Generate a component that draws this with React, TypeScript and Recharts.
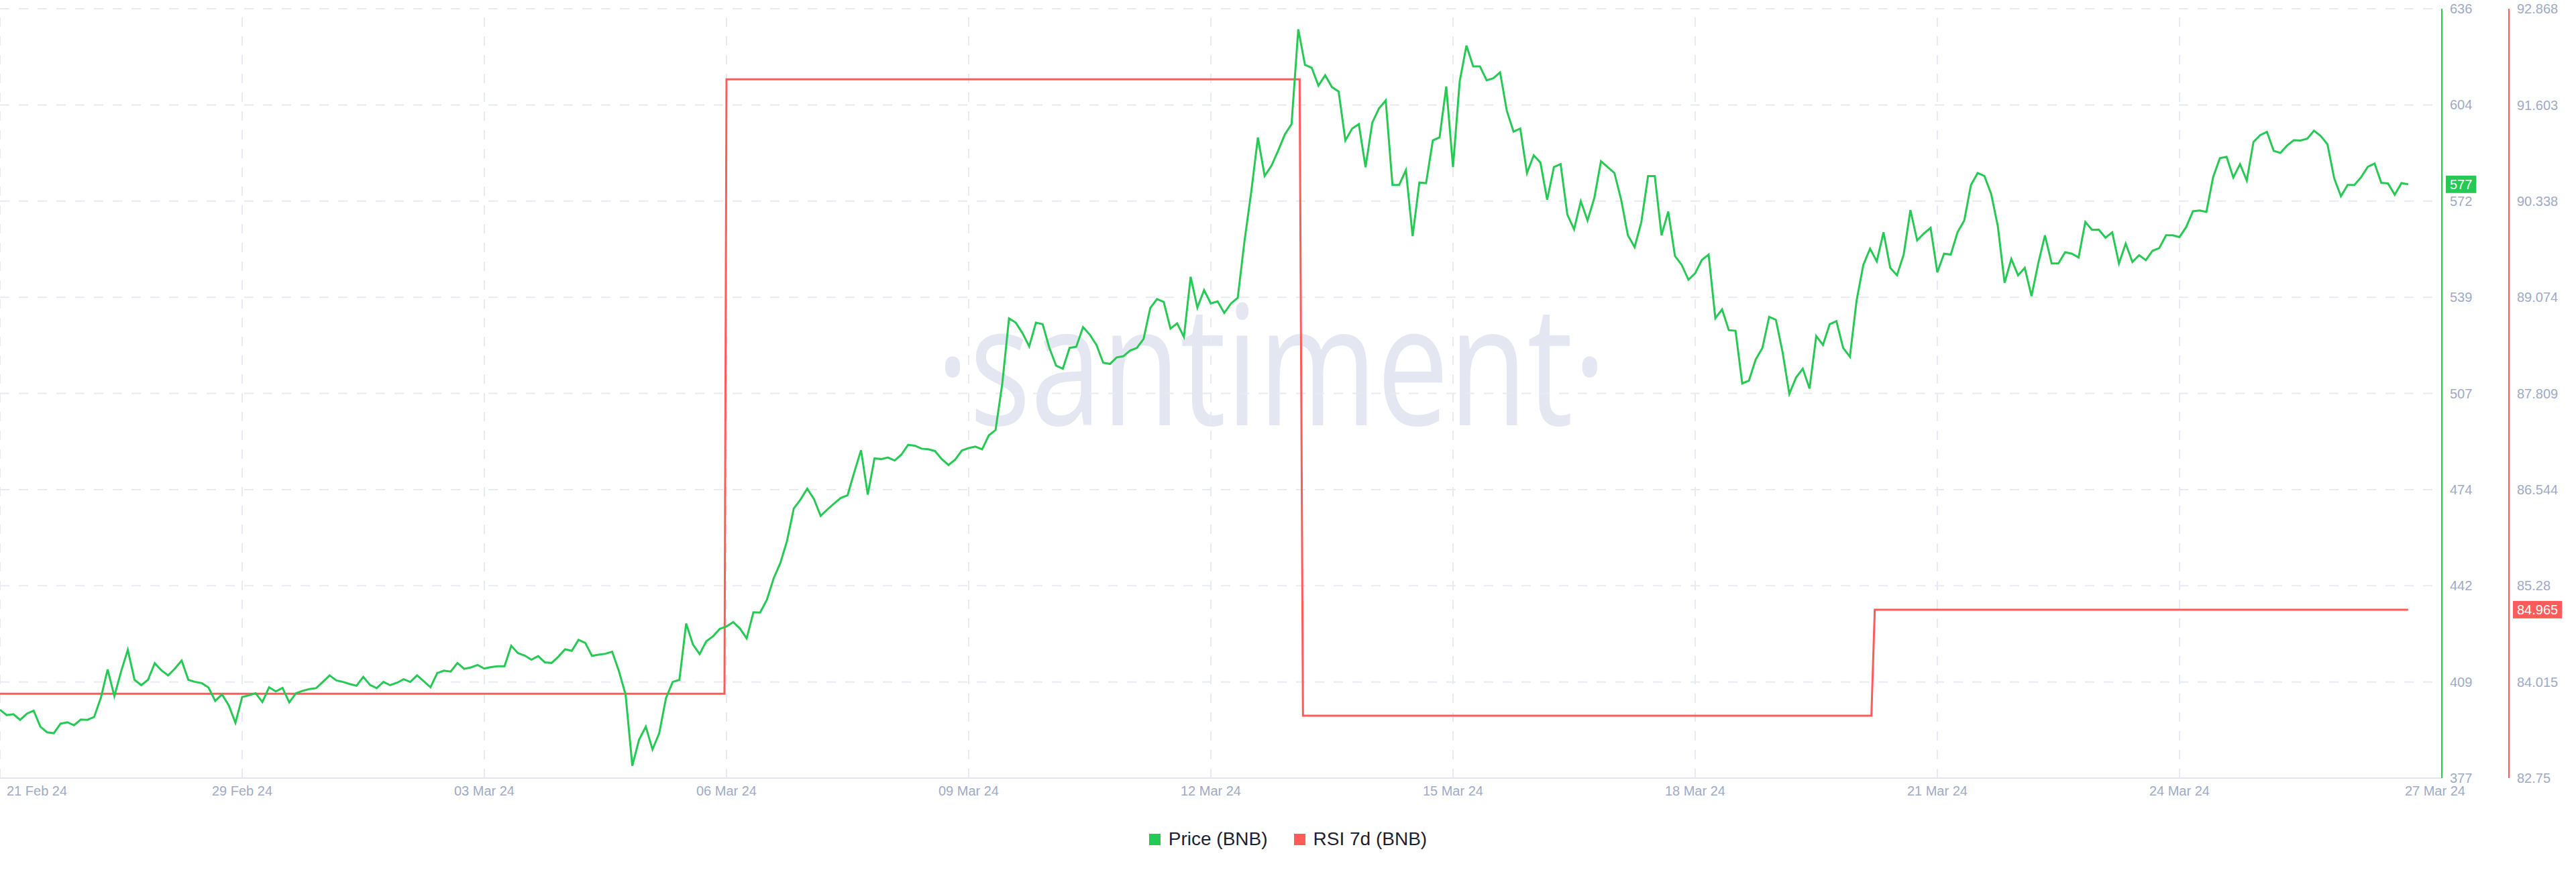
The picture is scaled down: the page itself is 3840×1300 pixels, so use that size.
import React from 'react';
import { LineChart, Line, XAxis, YAxis, CartesianGrid, ReferenceLine } from 'recharts';

// Price (BNB), one value per index step (x = index)
const priceValues: number[] = [
  399.9, 398.1, 398.4, 396.5, 398.6, 399.6, 394.2, 392.3, 392.0, 395.2,
  395.7, 394.7, 396.6, 396.5, 397.5, 404.0, 413.5, 404.5, 412.8, 420.1,
  410.0, 408.2, 410.0, 415.6, 413.2, 411.5, 413.8, 416.5, 410.0, 409.3,
  408.9, 407.4, 402.9, 405.1, 401.4, 395.5, 404.2, 404.8, 405.5, 402.5,
  407.5, 406.1, 407.3, 402.4, 405.5, 406.3, 406.9, 407.2, 409.3, 411.5,
  409.8, 409.3, 408.6, 408.0, 411.0, 408.3, 407.2, 409.3, 408.2, 409.0,
  410.2, 409.3, 411.5, 409.5, 407.5, 412.3, 413.1, 412.8, 415.7, 413.7,
  414.2, 415.0, 413.8, 414.3, 414.6, 414.6, 421.5, 419.0, 418.2, 416.8,
  418.0, 415.9, 415.7, 417.8, 420.3, 419.8, 423.5, 422.5, 418.1, 418.5,
  418.8, 419.5, 413.0, 405.0, 381.0, 389.8, 394.2, 386.5, 392.0, 403.8,
  409.3, 410.0, 429.0, 422.0, 418.7, 423.0, 424.7, 427.2, 428.0, 429.5,
  427.3, 424.0, 432.8, 432.7, 437.0, 444.2, 449.4, 456.9, 467.8, 470.8,
  474.5, 471.0, 465.3, 467.5, 469.5, 471.4, 472.3, 480.1, 487.5, 472.5,
  484.7, 484.5, 485.0, 484.0, 486.0, 489.3, 489.0, 488.0, 487.8, 487.2,
  484.5, 482.5, 484.3, 487.4, 488.2, 488.7, 487.8, 492.5, 494.3, 510.0,
  532.0, 530.5, 527.0, 522.5, 530.5, 530.0, 522.0, 516.0, 515.0, 522.0,
  522.4, 529.0, 526.5, 523.0, 517.0, 516.6, 518.8, 519.2, 521.1, 522.0,
  525.0, 535.5, 538.5, 537.5, 528.5, 530.3, 525.7, 546.0, 535.6, 541.5,
  537.0, 537.7, 533.8, 537.0, 538.9, 558.0, 574.5, 593.0, 580.0, 583.4,
  588.5, 594.0, 597.5, 629.5, 617.5, 616.5, 610.5, 614.0, 610.0, 608.5,
  592.0, 596.0, 597.5, 583.0, 598.0, 602.8, 605.5, 577.0, 577.0, 582.0,
  559.7, 577.8, 577.6, 592.0, 593.0, 610.2, 583.0, 612.0, 624.0, 617.0,
  617.0, 612.3, 613.0, 615.0, 602.0, 595.0, 596.0, 581.0, 587.0, 584.5,
  572.0, 583.0, 584.0, 567.0, 562.0, 571.5, 565.0, 572.5, 585.0, 583.0,
  581.0, 572.0, 560.0, 556.0, 564.5, 580.0, 580.0, 560.0, 568.0, 553.0,
  550.0, 545.0, 547.2, 551.7, 553.5, 532.0, 535.0, 528.0, 527.8, 510.0,
  511.0, 518.1, 522.0, 532.5, 531.5, 520.5, 506.5, 512.0, 515.0, 508.3,
  526.0, 523.0, 530.0, 531.0, 522.0, 519.0, 538.0, 550.0, 555.5, 551.2,
  561.0, 549.0, 546.5, 553.5, 568.5, 558.3, 560.6, 562.5, 547.5, 553.8,
  553.5, 561.0, 565.0, 577.0, 581.0, 580.0, 574.0, 563.0, 544.0, 552.0,
  546.5, 549.0, 539.5, 550.5, 560.0, 550.5, 550.5, 554.3, 553.8, 552.5,
  564.5, 561.8, 561.9, 559.2, 561.0, 550.5, 557.2, 551.0, 553.3, 551.6,
  554.8, 555.7, 560.0, 560.0, 559.4, 562.8, 568.1, 568.4, 567.9, 579.6,
  586.0, 586.5, 579.5, 584.0, 578.5, 591.5, 593.8, 594.9, 588.5, 587.8,
  590.3, 592.1, 592.0, 592.6, 595.3, 593.5, 590.7, 579.2, 573.2, 577.0,
  577.0, 579.6, 583.1, 584.2, 577.7, 577.5, 573.7, 577.6, 577.2,
];

// RSI 7d (BNB): step levels, read at their break positions (same x index scale)
const rsiX: number[] = [0, 107.7, 108.0, 193.2, 193.7, 278.2, 278.7, 358];
const rsiValues: number[] = [83.86, 83.86, 91.94, 91.94, 83.57, 83.57, 84.965, 84.965];

// x-axis categories (date ticks)
const dateTickIndex: number[] = [0, 36, 72, 108, 144, 180, 216, 252, 288, 324, 360];
const dateTickLabels: string[] = [
  '21 Feb 24', '29 Feb 24', '03 Mar 24', '06 Mar 24', '09 Mar 24', '12 Mar 24',
  '15 Mar 24', '18 Mar 24', '21 Mar 24', '24 Mar 24', '27 Mar 24',
];

// y-axis ticks
const priceTicks: number[] = [376.85, 409.3, 441.75, 474.2, 506.65, 539.1, 571.55, 604.0, 636.45];
const rsiTicks: number[] = [82.75, 84.015, 85.28, 86.544, 87.809, 89.074, 90.338, 91.603, 92.868];

const seriesInfo = [
  { key: 'price', name: 'Price (BNB)', color: '#26C953' },
  { key: 'rsi', name: 'RSI 7d (BNB)', color: '#FF5B5B' },
];

const priceRows = priceValues.map((v, i) => ({ x: i, price: v }));
const rsiRows = rsiX.map((x, i) => ({ x, rsi: rsiValues[i] }));

const FONT = "'Liberation Sans', Arial, Helvetica, sans-serif";
const TICK_COLOR = '#9faac4';
const GRID_COLOR = '#e7eaf3';

const charW = (s: string) =>
  s.split('').reduce((a, c) => a + (c === '.' ? 5.56 : 11.12), 0);

const makeBadge = (text: string, color: string, gap: number) => (props: any) => {
  const vb = props.viewBox || {};
  const x0 = (vb.x || 0) + (vb.width || 0) + gap;
  const y0 = vb.y || 0;
  const w = charW(text) + 12;
  return (
    <g>
      <rect x={x0} y={y0 - 13} width={w} height={26} fill={color} />
      <text x={x0 + 6} y={y0 + 7} fill="#ffffff" fontSize={20} fontFamily={FONT}>
        {text}
      </text>
    </g>
  );
};

const XTick = (props: any) => {
  const { x, y, payload } = props;
  const idx = dateTickIndex.indexOf(payload.value);
  const label = idx >= 0 ? dateTickLabels[idx] : '';
  let anchor: 'start' | 'middle' = 'middle';
  let dx = 0;
  if (idx === 0) {
    anchor = 'start';
    dx = 10;
  } else if (idx === dateTickIndex.length - 1) {
    dx = 20;
  }
  return (
    <text x={x + dx} y={y + 26} textAnchor={anchor} fill={TICK_COLOR} fontSize={20} fontFamily={FONT}>
      {label}
    </text>
  );
};

export default function App() {
  const lastPrice = String(Math.round(priceValues[priceValues.length - 1]));
  const lastRsi = String(rsiValues[rsiValues.length - 1]);
  return (
    <div style={{ position: 'absolute', left: 0, top: 0, width: 3840, height: 1300, background: '#ffffff' }}>
      <svg width={3840} height={1300} style={{ position: 'absolute', left: 0, top: 0 }}>
        <text
          x={1395}
          y={634}
          fontFamily="'Open Sans', 'Noto Sans', sans-serif"
          fontWeight={400}
          fontSize={250}
          fill="#e4e7f1"
          textLength={1000}
          lengthAdjust="spacingAndGlyphs"
        >
          ·santiment·
        </text>
      </svg>
      <div style={{ position: 'absolute', left: 0, top: 0 }}>
        <LineChart
          width={3840}
          height={1300}
          data={priceRows}
          margin={{ top: 13, right: 0, bottom: 100, left: 0 }}
        >
          <CartesianGrid
            yAxisId="price"
            vertical={false}
            stroke={GRID_COLOR}
            strokeWidth={2}
            strokeDasharray="14 14"
          />
          <XAxis
            dataKey="x"
            type="number"
            domain={[0, 363]}
            ticks={dateTickIndex}
            interval={0}
            height={40}
            tickLine={false}
            tickSize={0}
            tickMargin={0}
            axisLine={{ stroke: '#e4e7f0', strokeWidth: 2 }}
            tick={<XTick />}
            allowDataOverflow
          />
          <YAxis
            yAxisId="price"
            orientation="right"
            width={100}
            domain={[priceTicks[0], priceTicks[priceTicks.length - 1]]}
            ticks={priceTicks}
            interval={0}
            allowDataOverflow
            tickLine={false}
            tickSize={0}
            tickMargin={12}
            tickFormatter={(v: number) => String(Math.round(v))}
            tick={{ fill: TICK_COLOR, fontSize: 20, fontFamily: FONT }}
            axisLine={{ stroke: seriesInfo[0].color, strokeWidth: 2 }}
          />
          <YAxis
            yAxisId="rsi"
            orientation="right"
            width={100}
            domain={[rsiTicks[0], rsiTicks[rsiTicks.length - 1]]}
            ticks={rsiTicks}
            interval={0}
            allowDataOverflow
            tickLine={false}
            tickSize={0}
            tickMargin={12}
            tickFormatter={(v: number) => String(v)}
            tick={{ fill: TICK_COLOR, fontSize: 20, fontFamily: FONT }}
            axisLine={{ stroke: seriesInfo[1].color, strokeWidth: 2 }}
          />
          {dateTickIndex.slice(0, dateTickIndex.length - 1).map((t) => (
            <ReferenceLine
              key={'vg' + t}
              x={t}
              yAxisId="price"
              stroke={GRID_COLOR}
              strokeWidth={2}
              strokeDasharray="14 14"
            />
          ))}
          <Line
            yAxisId="rsi"
            data={rsiRows}
            dataKey="rsi"
            name={seriesInfo[1].name}
            type="linear"
            stroke={seriesInfo[1].color}
            strokeWidth={3}
            dot={false}
            activeDot={false}
            isAnimationActive={false}
          />
          <Line
            yAxisId="price"
            dataKey="price"
            name={seriesInfo[0].name}
            type="linear"
            stroke={seriesInfo[0].color}
            strokeWidth={3}
            dot={false}
            activeDot={false}
            isAnimationActive={false}
          />
          <ReferenceLine
            yAxisId="price"
            y={priceValues[priceValues.length - 1]}
            stroke="none"
            label={makeBadge(lastPrice, seriesInfo[0].color, 6)}
          />
          <ReferenceLine
            yAxisId="rsi"
            y={rsiValues[rsiValues.length - 1]}
            stroke="none"
            label={makeBadge(lastRsi, seriesInfo[1].color, 106)}
          />
        </LineChart>
      </div>
      <div
        style={{
          position: 'absolute',
          left: 0,
          top: 1235,
          width: 3840,
          height: 32,
          display: 'flex',
          justifyContent: 'center',
          alignItems: 'center',
          fontFamily: FONT,
          fontSize: 28,
          color: '#1d2132',
        }}
      >
        {seriesInfo.map((s, i) => (
          <div key={s.key} style={{ display: 'flex', alignItems: 'center', marginLeft: i === 0 ? 0 : 39 }}>
            <span style={{ display: 'inline-block', width: 17, height: 17, background: s.color, marginRight: 12 }} />
            <span style={{ whiteSpace: 'nowrap' }}>{s.name}</span>
          </div>
        ))}
      </div>
    </div>
  );
}
